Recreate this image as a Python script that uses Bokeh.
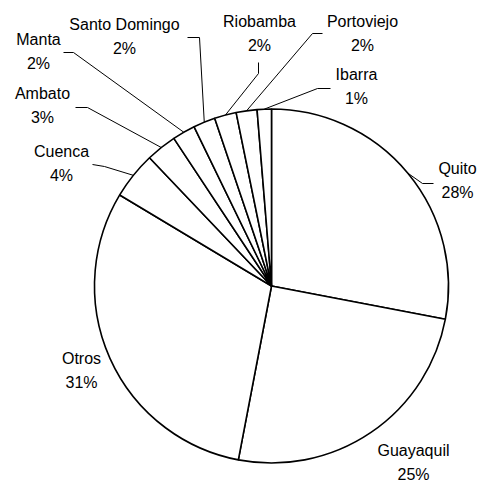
import numpy as np
from bokeh.plotting import figure
from bokeh.models import Range1d, ColumnDataSource
from bokeh.core.properties import value
from bokeh.embed import file_html
from bokeh.resources import INLINE

# ---- data ----
cities = ["Quito", "Guayaquil", "Otros", "Cuenca", "Ambato", "Manta",
          "Santo Domingo", "Riobamba", "Portoviejo", "Ibarra"]
shares = [28.0, 25.0, 30.6, 4.3, 2.8, 2.1, 2.0, 2.0, 1.9, 1.3]

# ---- layout (pixel coordinates, y from top) ----
W, H = 479, 482
CX, CY, R = 271, 285.5, 177
# label block centre (x, y of first line)
label_pos = {
    "Quito": (457, 168), "Guayaquil": (413, 450), "Otros": (81, 358),
    "Cuenca": (61, 151), "Ambato": (42, 93), "Manta": (38, 39),
    "Santo Domingo": (124, 24), "Riobamba": (259, 21),
    "Portoviejo": (362, 21), "Ibarra": (356, 74),
}
LINE_GAP = 23.5
# leader line: start point and elbow (pixels); end point on the pie is computed
leaders = {
    "Quito": [(433, 183), (422, 183)],
    "Cuenca": [(92, 164), (104, 166)],
    "Ambato": [(75, 107), (87, 107)],
    "Manta": [(63, 52), (73, 52)],
    "Santo Domingo": [(187, 37), (199, 37)],
    "Riobamba": [(258, 62), (258, 73)],
    "Portoviejo": [(322, 33), (312, 33)],
    "Ibarra": [(330, 88), (317, 88)],
}

def py(y):
    return H - y

vals = np.array(shares, dtype=float)
frac = vals / vals.sum()
cum_end = np.cumsum(frac)
cum_start = cum_end - frac
start_angle = np.pi / 2 - 2 * np.pi * cum_end
end_angle = np.pi / 2 - 2 * np.pi * cum_start
mid = np.pi / 2 - 2 * np.pi * (cum_start + cum_end) / 2

p = figure(width=W, height=H, x_range=Range1d(0, W), y_range=Range1d(0, H),
           output_backend="svg", toolbar_location=None,
           x_axis_location=None, y_axis_location=None, min_border=0)
p.grid.visible = False
p.outline_line_color = None
p.background_fill_color = "white"
p.border_fill_color = "white"

src = ColumnDataSource(dict(city=cities, start=start_angle, end=end_angle))
p.wedge(x=CX, y=py(CY), radius=R, start_angle="start", end_angle="end",
        direction="anticlock", fill_color="white", line_color="black",
        line_width=1.6, source=src)

# leader lines
xs, ys = [], []
for i, c in enumerate(cities):
    if c in leaders:
        pts = leaders[c]
        ex = CX + R * np.cos(mid[i])
        ey = py(CY) + R * np.sin(mid[i])
        xs.append([pts[0][0], pts[1][0], ex])
        ys.append([py(pts[0][1]), py(pts[1][1]), ey])
p.multi_line(xs=xs, ys=ys, line_color="black", line_width=1)

# labels
tx, ty, tt = [], [], []
for i, c in enumerate(cities):
    lx, ly = label_pos[c]
    tx += [lx, lx]
    ty += [py(ly), py(ly + LINE_GAP)]
    tt += [c, f"{round(frac[i] * 100):.0f}%"]
p.text(x=tx, y=ty, text=tt, text_align="center", text_baseline="middle",
       text_font=value("Liberation Sans"), text_font_size="16px",
       text_color="black")

open("out.html", "w").write(file_html(p, INLINE))
